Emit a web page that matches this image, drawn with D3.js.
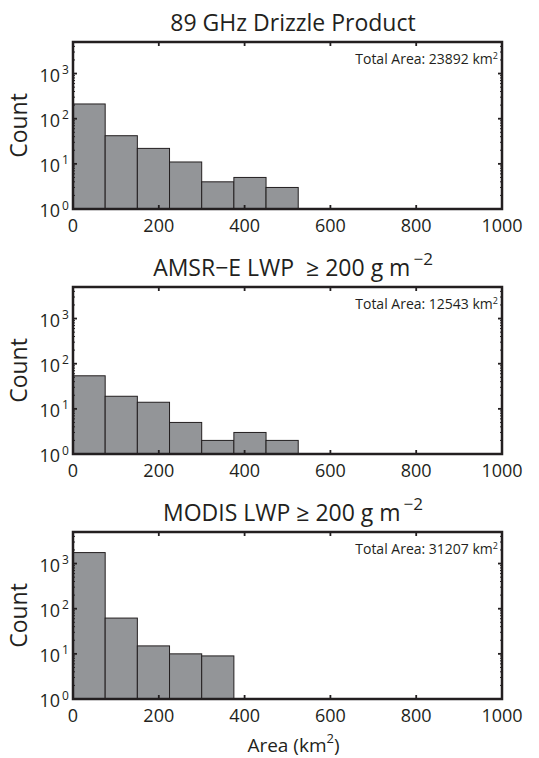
<!DOCTYPE html>
<html>
<head>
<meta charset="utf-8">
<script src="https://cdn.jsdelivr.net/npm/d3@7"></script>
<style>
  html, body { margin: 0; padding: 0; background: #fff; }
  svg { display: block; font-family: "Open Sans", "Noto Sans", sans-serif; }
  text { fill: #231f20; white-space: pre; }
</style>
</head>
<body>
<svg id="chart" width="539" height="758"></svg>
<script>
// ---- data ----
const binEdges = [0, 75, 150, 225, 300, 375, 450, 525];
const drizzleCounts = [212, 42, 22, 11, 4, 5, 3];
const amsrCounts = [54, 19, 14, 5, 2, 3, 2];
const modisCounts = [1750, 62, 15, 10, 9];
const titles = [
  { main: "89 GHz Drizzle Product", sup: "" },
  { main: "AMSR\u2212E LWP  \u2265 200 g m", sup: "\u22122" },
  { main: "MODIS LWP \u2265 200 g m", sup: "\u22122" }
];
const totalAreas = ["23892", "12543", "31207"];
const xTicks = [0, 200, 400, 600, 800, 1000];
const yTickExps = [0, 1, 2, 3];
const xDomain = [0, 1000];
const yDomain = [1, 5000];

const panels = [
  { counts: drizzleCounts, title: titles[0], area: totalAreas[0] },
  { counts: amsrCounts, title: titles[1], area: totalAreas[1] },
  { counts: modisCounts, title: titles[2], area: totalAreas[2] }
];

// ---- layout ----
const svg = d3.select("#chart");
const left = 73, right = 502, ph = 167;
const tops = [42, 287, 532];
const ink = "#231f20";

const x = d3.scaleLinear().domain(xDomain).range([left, right]);

panels.forEach((p, i) => {
  const top = tops[i], bottom = top + ph;
  const y = d3.scaleLog().domain(yDomain).range([bottom, top]);
  const g = svg.append("g");

  // bars
  const bins = p.counts.map((c, k) => ({ x0: binEdges[k], x1: binEdges[k + 1], c }));
  g.selectAll("rect.bar").data(bins).join("rect")
    .attr("class", "bar")
    .attr("x", d => x(d.x0))
    .attr("width", d => x(d.x1) - x(d.x0))
    .attr("y", d => y(d.c))
    .attr("height", d => y(1) - y(d.c))
    .attr("fill", "#939598")
    .attr("stroke", ink)
    .attr("stroke-width", 1);

  // minor log ticks (left/right)
  const minors = [];
  for (let e = 0; e < 4; e++) for (let m = 2; m <= 9; m++) {
    const v = m * Math.pow(10, e);
    if (v <= yDomain[1]) minors.push(v);
  }
  g.selectAll("line.minor").data(minors).join("line")
    .attr("x1", left).attr("x2", left + 2)
    .attr("y1", d => y(d)).attr("y2", d => y(d))
    .attr("stroke", ink).attr("stroke-width", 1);
  g.selectAll("line.minorR").data(minors).join("line")
    .attr("x1", right).attr("x2", right - 2)
    .attr("y1", d => y(d)).attr("y2", d => y(d))
    .attr("stroke", ink).attr("stroke-width", 1);

  // major y ticks
  yTickExps.forEach(e => {
    const yy = y(Math.pow(10, e));
    g.append("line").attr("x1", left).attr("x2", left + 4).attr("y1", yy).attr("y2", yy)
      .attr("stroke", ink).attr("stroke-width", 1.8);
    g.append("line").attr("x1", right).attr("x2", right - 4).attr("y1", yy).attr("y2", yy)
      .attr("stroke", ink).attr("stroke-width", 1.8);
    g.append("text").attr("x", 60).attr("y", yy + 8).attr("text-anchor", "end")
      .attr("font-size", 18).text("10");
    g.append("text").attr("x", 62).attr("y", yy + 0.5).attr("text-anchor", "start")
      .attr("font-size", 12).text(String(e));
  });

  // x ticks
  xTicks.forEach(t => {
    const xx = x(t);
    g.append("line").attr("x1", xx).attr("x2", xx).attr("y1", bottom).attr("y2", bottom - 4)
      .attr("stroke", ink).attr("stroke-width", 1.8);
    g.append("line").attr("x1", xx).attr("x2", xx).attr("y1", top).attr("y2", top + 4)
      .attr("stroke", ink).attr("stroke-width", 1.8);
    g.append("text").attr("x", xx).attr("y", bottom + 23).attr("text-anchor", "middle")
      .attr("font-size", 18).text(String(t));
  });

  // frame
  g.append("rect").attr("x", left).attr("y", top).attr("width", right - left).attr("height", ph)
    .attr("fill", "none").attr("stroke", ink).attr("stroke-width", 2.5);

  // title
  const tt = g.append("text").attr("x", 293).attr("y", top - 11).attr("text-anchor", "middle")
    .attr("font-size", 23);
  tt.append("tspan").text(p.title.main);
  if (p.title.sup) {
    tt.append("tspan").attr("dx", 3).attr("dy", -11).attr("font-size", 17).text(p.title.sup);
  }

  // total area
  const ta = g.append("text").attr("x", 498).attr("y", top + 22).attr("text-anchor", "end")
    .attr("font-size", 14);
  ta.append("tspan").text("Total Area: " + p.area + " km");
  ta.append("tspan").attr("font-size", 9).attr("dy", -5).text("2");

  // y label
  g.append("text").attr("transform", `translate(27,${(top + bottom) / 2}) rotate(-90)`)
    .attr("text-anchor", "middle").attr("font-size", 23).text("Count");
});

// x label
const xl = svg.append("text").attr("x", (left + right) / 2 + 6).attr("y", 752)
  .attr("text-anchor", "middle").attr("font-size", 19);
xl.append("tspan").text("Area (km");
xl.append("tspan").attr("font-size", 13).attr("dy", -9).text("2");
xl.append("tspan").attr("dy", 9).text(")");
</script>
</body>
</html>
